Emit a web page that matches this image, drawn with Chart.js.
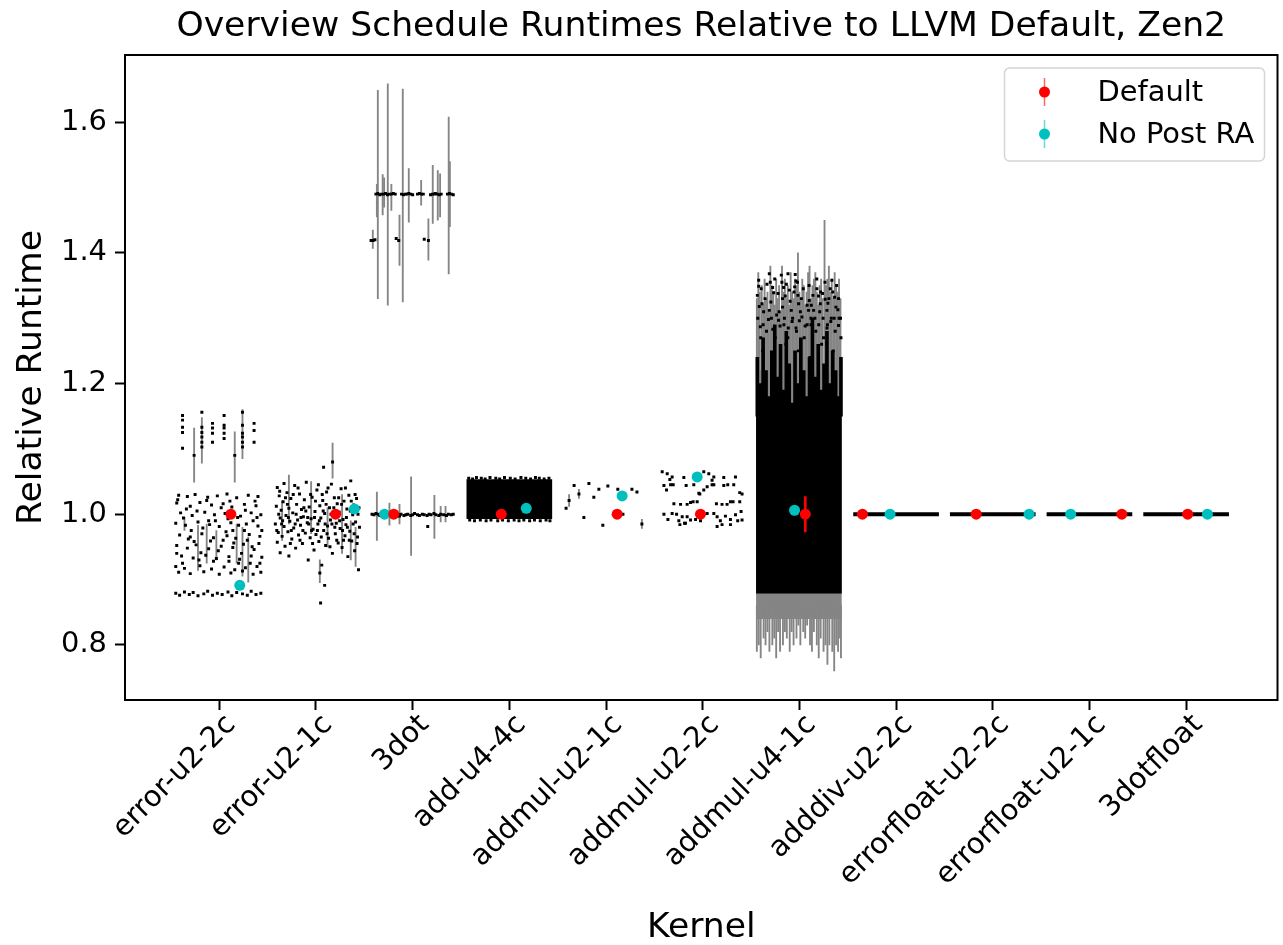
<!DOCTYPE html>
<html>
<head>
<meta charset="utf-8">
<title>Overview Schedule Runtimes</title>
<script src="https://cdn.jsdelivr.net/npm/chart.js@4.4.1/dist/chart.umd.min.js"></script>
<style>
  html, body { margin: 0; padding: 0; background: #fff; }
  #wrap { width: 1283px; height: 945px; }
</style>
</head>
<body>
<div id="wrap"><canvas id="myChart" width="1283" height="945"></canvas></div>
<script>
const chartTitle = 'Overview Schedule Runtimes Relative to LLVM Default, Zen2';
const kernels = ["error-u2-2c", "error-u2-1c", "3dot", "add-u4-4c", "addmul-u2-1c", "addmul-u2-2c",
  "addmul-u4-1c", "adddiv-u2-2c", "errorfloat-u2-2c", "errorfloat-u2-1c", "3dotfloat"];
const runtimeTicks = [0.8, 1.0, 1.2, 1.4, 1.6];

// mean runtime per kernel, plotted with a small horizontal jitter
const defaultX = [0.12, 1.203, 1.805, 2.917, 4.115, 4.977, 6.061, 6.652, 7.829, 9.335, 10.016];
const defaultY = [1.0, 1.0, 1.0, 1.0, 1.0, 1.0, 1.0, 1.0, 1.0, 1.0, 1.0];
const defaultErr = [0.003, 0.004, 0.002, 0.001, 0.002, 0.002, 0.027, 0.001, 0.001, 0.001, 0.001];
const noPostX = [0.212, 1.398, 1.709, 3.175, 4.167, 4.943, 5.95, 6.938, 8.376, 8.806, 10.22];
const noPostY = [0.891, 1.008, 1.0, 1.009, 1.028, 1.057, 1.006, 1.0, 1.0, 1.0, 1.0];
const noPostErr = [0.003, 0.004, 0.002, 0.002, 0.003, 0.002, 0.005, 0.001, 0.001, 0.001, 0.001];

// schedule samples [x, runtime]
const errorU22cPts = [
  [-0.38,1.151],[-0.38,1.144],[-0.38,1.133],[-0.38,1.125],[-0.38,1.101],[-0.26,1.090],
  [-0.18,1.156],[-0.18,1.133],[-0.18,1.125],[-0.18,1.118],[-0.18,1.110],[-0.18,1.103],
  [-0.07,1.139],[-0.07,1.132],[-0.07,1.124],[-0.07,1.110],
  [0.05,1.151],[0.05,1.136],[0.05,1.132],[0.05,1.124],[0.05,1.116],[0.16,1.090],
  [0.24,1.156],[0.24,1.136],[0.24,1.124],[0.24,1.118],[0.24,1.110],[0.24,1.103],
  [0.36,1.139],[0.36,1.128],[0.36,1.110],
  [-0.42,1.029],[-0.33,1.027],[-0.25,1.030],[-0.12,1.026],[-0.02,1.028],[0.08,1.031],[0.18,1.025],[0.30,1.029],[0.40,1.027],
  [-0.44,1.017],[-0.30,1.012],[-0.20,1.018],[-0.08,1.014],[0.04,1.016],[0.13,1.011],[0.26,1.015],[0.38,1.013],
  [-0.40,1.002],[-0.28,0.998],[-0.15,1.003],[-0.05,0.999],[0.06,1.001],[0.22,0.997],[0.33,1.002],[0.43,0.999],
  [-0.45,0.986],[-0.35,0.983],[-0.22,0.988],[-0.10,0.984],[0.00,0.981],[0.12,0.987],[0.20,0.983],[0.28,0.985],[0.40,0.982],
  [-0.41,0.968],[-0.30,0.965],[-0.18,0.970],[-0.06,0.964],[0.08,0.967],[0.17,0.963],[0.31,0.969],[0.42,0.966],
  [-0.44,0.952],[-0.33,0.948],[-0.24,0.953],[-0.11,0.947],[0.02,0.951],[0.14,0.949],[0.25,0.954],[0.36,0.946],
  [-0.39,0.936],[-0.27,0.933],[-0.14,0.937],[-0.03,0.932],[0.10,0.935],[0.21,0.931],[0.33,0.936],[0.44,0.934],
  [-0.45,0.920],[-0.36,0.917],[-0.20,0.921],[-0.08,0.916],[0.05,0.919],[0.16,0.915],[0.27,0.918],[0.39,0.920],
  [-0.42,0.911],[-0.30,0.909],[-0.16,0.912],[0.00,0.908],[0.12,0.910],[0.24,0.913],[0.35,0.908],[0.43,0.911],
  [-0.43,1.022],[-0.37,0.994],[-0.34,1.008],[-0.29,0.975],[-0.26,0.958],[-0.23,1.005],[-0.19,0.941],[-0.17,0.979],
  [-0.13,1.021],[-0.09,0.959],[-0.04,0.990],[-0.01,0.944],[0.02,1.010],[0.07,0.973],[0.10,0.928],[0.11,1.020],
  [0.15,0.956],[0.19,0.995],[0.23,0.940],[0.27,1.006],[0.29,0.960],[0.32,0.925],[0.35,0.990],[0.37,1.020],
  [0.41,0.955],[0.44,0.975],[-0.44,0.940],[-0.38,0.925],[-0.32,0.962],[-0.21,0.930],[-0.11,0.990],[-0.06,0.928],
  [0.04,0.960],[0.09,0.993],[0.14,0.975],[0.20,0.925],[0.26,0.975],[0.34,0.950],[0.39,0.995],[0.42,0.925],
  [-0.45,0.879],[-0.41,0.876],[-0.36,0.881],[-0.31,0.877],[-0.27,0.880],[-0.22,0.875],[-0.16,0.878],[-0.12,0.882],
  [-0.07,0.876],[-0.02,0.879],[0.03,0.877],[0.09,0.881],[0.13,0.875],[0.18,0.880],[0.24,0.878],[0.29,0.876],
  [0.33,0.882],[0.38,0.877],[0.43,0.879]
];
const errorU21cPts = [
  [0.58,0.985],[0.59,1.012],[0.60,0.957],[0.60,1.041],[0.61,0.972],[0.62,1.028],[0.63,0.994],[0.63,0.941],
  [0.64,1.006],[0.65,0.966],[0.66,1.019],[0.67,0.981],[0.67,1.047],[0.68,0.951],[0.69,0.998],[0.70,1.033],
  [0.71,0.973],[0.72,1.009],[0.72,0.936],[0.73,0.989],[0.74,1.024],[0.75,0.962],[0.76,1.002],[0.77,0.979],
  [0.78,1.044],[0.79,0.948],[0.80,1.015],[0.81,0.991],[0.82,0.968],[0.83,1.031],[0.84,0.983],[0.85,1.007],
  [0.86,0.955],[0.87,0.996],[0.88,1.022],[0.89,0.971],[0.90,1.049],[0.91,0.987],[0.92,0.930],[0.93,1.011],
  [0.94,0.964],[0.95,0.993],[0.96,1.026],[0.97,0.977],[0.98,0.945],[0.99,1.004],[1.00,0.969],[1.01,1.037],
  [1.02,0.985],[1.03,0.958],[1.04,1.013],[1.05,0.994],[1.06,0.922],[1.07,1.021],[1.08,0.975],[1.09,1.001],
  [1.10,0.952],[1.11,1.034],[1.12,0.982],[1.13,0.963],[1.14,1.010],[1.15,0.991],[1.16,1.046],[1.17,0.940],
  [1.18,0.997],[1.19,1.025],[1.20,0.970],[1.21,0.986],[1.22,1.016],[1.23,0.956],[1.24,1.003],[1.25,0.978],
  [1.26,1.039],[1.27,0.949],[1.28,0.992],[1.29,1.020],[1.30,0.967],[1.31,0.984],[1.32,1.008],[1.33,0.935],
  [1.34,1.029],[1.35,0.974],[1.36,1.051],[1.37,0.959],[1.38,0.999],[1.39,1.014],[1.40,0.944],[1.41,0.988],
  [1.42,1.024],[1.43,0.965],[1.44,0.915],[1.45,0.980],
  [0.615,1.000],[0.655,0.990],[0.705,1.015],[0.745,0.975],[0.795,1.000],[0.835,0.960],[0.875,1.010],
  [0.915,0.995],[0.955,0.975],[0.995,1.020],[1.035,0.990],[1.075,1.005],[1.115,0.970],[1.155,1.000],
  [1.195,0.980],[1.235,1.025],[1.275,0.975],[1.315,0.995],[1.355,1.005],[1.395,0.970],[1.435,1.000],
  [0.595,0.975],[0.625,1.035],[0.645,0.985],[0.685,1.025],[0.715,0.995],[0.735,0.955],[0.765,1.030],
  [0.785,0.985],[0.815,1.040],[0.845,0.995],[0.865,0.975],[0.895,1.005],[0.925,0.985],[0.945,1.030],
  [0.965,0.955],[0.985,0.995],[1.015,0.975],[1.025,1.045],[1.055,0.965],[1.065,1.030],[1.095,0.985],
  [1.105,1.015],[1.125,1.040],[1.145,0.950],[1.165,0.985],[1.185,1.010],[1.215,0.960],[1.245,0.990],
  [1.265,1.015],[1.285,0.960],[1.305,1.040],[1.325,0.980],[1.345,0.960],[1.365,1.020],[1.385,0.985],
  [1.405,1.030],[1.425,0.955],[1.445,1.010],
  [1.079,1.072],[1.172,1.080],[1.090,0.891],[1.048,0.864],[1.040,0.910]
];
const threeDotPts = [
  [1.62,1.490],[1.64,1.491],[1.66,1.489],[1.68,1.490],[1.70,1.490],[1.72,1.491],[1.74,1.489],[1.76,1.490],
  [1.78,1.490],[1.80,1.491],[1.82,1.490],[1.885,1.490],[1.905,1.489],[1.925,1.490],[1.94,1.490],[1.96,1.491],
  [1.98,1.490],[2.00,1.489],[2.05,1.490],[2.07,1.491],[2.09,1.490],[2.11,1.490],[2.185,1.489],[2.205,1.490],
  [2.225,1.490],[2.235,1.491],[2.255,1.490],[2.275,1.489],[2.295,1.490],[2.36,1.490],[2.38,1.491],[2.40,1.490],
  [2.42,1.489],
  [1.57,1.419],[1.59,1.419],[1.61,1.420],[1.83,1.422],[1.856,1.419],[2.12,1.421],[2.163,1.419],
  [1.58,1.000],[1.60,0.999],[1.62,1.001],[1.645,1.000],[1.66,0.998],[1.69,1.000],[1.72,1.001],[1.74,0.999],
  [1.77,1.000],[1.79,0.998],[1.82,1.000],[1.84,0.997],[1.86,0.999],[1.88,1.000],[1.91,0.998],[1.93,0.999],
  [1.95,1.000],[1.98,0.998],[2.00,0.999],[2.02,1.001],[2.05,0.999],[2.07,0.998],[2.10,1.000],[2.12,0.999],
  [2.15,0.998],[2.17,1.000],[2.19,0.999],[2.22,1.001],[2.24,0.999],[2.27,0.998],[2.29,1.000],[2.32,0.999],
  [2.35,0.998],[2.37,1.000],[2.40,0.999],[2.42,1.000],[2.156,0.981],[1.864,0.997]
];
const addU44cPts = [
  [2.58,1.055],[2.62,1.054],[2.66,1.056],[2.71,1.055],[2.75,1.054],[2.80,1.056],[2.86,1.055],[2.90,1.054],
  [2.95,1.056],[3.01,1.055],[3.06,1.054],[3.12,1.056],[3.17,1.055],[3.22,1.054],[3.27,1.056],[3.31,1.055],
  [3.36,1.054],[3.41,1.055],
  [2.59,0.991],[2.64,0.990],[2.70,0.991],[2.76,0.990],[2.81,0.991],[2.88,0.990],[2.93,0.991],[2.99,0.990],
  [3.05,0.991],[3.10,0.990],[3.15,0.991],[3.21,0.990],[3.26,0.991],[3.32,0.990],[3.38,0.991],[3.42,0.990]
];
const addmulU21cPts = [
  [3.587,1.009],[3.618,1.021],[3.670,1.044],[3.720,1.031],[3.771,0.995],[3.823,1.047],[3.874,1.026],
  [3.926,1.038],[3.967,0.983],[4.019,1.043],[4.122,1.038],[4.175,1.000],[4.268,1.038],[4.320,1.034],
  [4.371,0.985]
];
const addmulU22cPts = [
  [4.581,1.065],[4.633,1.062],[4.684,1.057],[4.660,1.053],[4.805,1.056],[5.011,1.065],[5.063,1.062],
  [5.115,1.057],[5.097,1.052],[5.218,1.056],[5.339,1.057],[4.599,1.044],[4.626,1.037],[4.668,1.045],
  [4.695,1.045],[4.829,1.044],[4.908,1.045],[5.011,1.037],[5.046,1.042],[5.097,1.045],[5.115,1.045],
  [5.218,1.044],[5.259,1.045],[5.321,1.045],[5.383,1.033],[5.407,1.031],[4.960,1.032],[4.970,1.031],
  [4.702,1.016],[4.771,1.015],[4.839,1.015],[4.874,1.018],[4.901,1.019],[4.943,1.019],[5.142,1.016],
  [5.200,1.015],[5.252,1.015],[5.287,1.019],[5.314,1.019],[5.383,1.019],
  [4.599,1.000],[4.640,0.992],[4.684,1.001],[4.730,1.000],[4.753,0.990],[4.788,0.996],[4.812,0.986],
  [4.839,0.996],[4.874,0.991],[4.926,0.992],[4.977,0.990],[5.046,1.001],[5.115,1.001],[5.149,0.996],
  [5.183,0.990],[5.235,0.997],[5.287,0.992],[5.339,0.999],[5.362,0.990],[5.397,1.004],[5.407,0.991],
  [4.764,0.984],[4.822,0.986],[5.149,0.981],[5.200,0.984],[5.287,0.984]
];
const addmulU41cPts = [
  [5.579,1.358],[5.579,1.349],[5.689,1.368],[5.699,1.355],[5.723,1.347],[5.734,1.339],[5.813,1.366],
  [5.819,1.355],[5.837,1.347],[5.854,1.334],[5.882,1.368],[5.896,1.343],[5.957,1.367],[5.964,1.357],
  [5.951,1.348],[5.985,1.335],[5.992,1.322],[6.102,1.327],[6.123,1.320],[6.147,1.312],[6.181,1.345],
  [6.198,1.334],[6.240,1.338],[6.267,1.329],[6.295,1.323],[6.319,1.345],[6.336,1.358],[6.364,1.332],
  [6.378,1.317],[6.398,1.313],[6.405,1.289],[6.285,1.312],[6.216,1.322],[6.095,1.312],[6.026,1.302],
  [5.916,1.312],[5.826,1.317],[5.785,1.297],[5.689,1.312],[5.613,1.322],[5.596,1.287],
  [5.57,1.300],[5.60,1.270],[5.63,1.310],[5.66,1.280],[5.71,1.300],[5.75,1.270],[5.79,1.310],[5.84,1.290],
  [5.88,1.270],[5.93,1.300],[5.97,1.280],[6.01,1.310],[6.05,1.270],[6.08,1.290],[6.12,1.300],[6.17,1.280],
  [6.21,1.310],[6.25,1.270],[6.29,1.290],[6.33,1.300],[6.37,1.280],[6.41,1.300],[5.62,1.250],[5.74,1.240],
  [5.86,1.260],[5.99,1.250],[6.11,1.240],[6.23,1.260],[6.35,1.250],[6.43,1.270],
  [5.565,1.335],[5.585,1.318],[5.605,1.345],[5.625,1.290],[5.645,1.330],[5.665,1.352],[5.68,1.298],
  [5.705,1.325],[5.725,1.283],[5.745,1.360],[5.765,1.305],[5.78,1.338],[5.80,1.288],[5.825,1.330],
  [5.845,1.300],[5.865,1.352],[5.885,1.285],[5.905,1.326],[5.925,1.295],[5.945,1.340],[5.965,1.285],
  [5.98,1.355],[6.00,1.296],[6.02,1.330],[6.04,1.345],[6.06,1.288],[6.08,1.320],[6.10,1.350],
  [6.12,1.290],[6.14,1.335],[6.16,1.300],[6.18,1.360],[6.20,1.290],[6.22,1.340],[6.245,1.300],
  [6.265,1.355],[6.285,1.285],[6.305,1.330],[6.325,1.295],[6.345,1.340],[6.36,1.300],[6.385,1.350],
  [6.405,1.330],[6.425,1.300]
];

// error bars [x, low, high]
const errorU22cBars = [
  [-0.26,1.049,1.132],[0.16,1.049,1.126],[-0.18,1.078,1.148],[0.24,1.085,1.160],
  [-0.22,0.914,0.983],[-0.13,0.925,0.985],[0.18,0.925,0.985],[0.24,0.905,0.980],[0.30,0.896,0.965],
  [-0.36,0.975,0.995],[-0.03,0.930,0.975]
];
const errorU21cBars = [
  [0.72,0.985,1.060],[0.95,0.970,1.050],[1.172,1.055,1.109],[1.04,0.895,0.930],[1.27,0.940,1.030],
  [1.36,0.930,0.990],[1.41,0.920,0.980],[0.65,0.960,1.020],[1.12,0.950,1.010]
];
const threeDotBars = [
  [1.64,1.330,1.649],[1.743,1.320,1.659],[1.898,1.325,1.651],[2.373,1.368,1.608],[1.69,1.458,1.520],
  [1.705,1.470,1.515],[1.78,1.465,1.505],[1.96,1.447,1.529],[2.088,1.473,1.511],[2.208,1.445,1.534],
  [2.26,1.450,1.526],[2.284,1.455,1.521],[1.864,1.381,1.458],[2.163,1.389,1.452],[1.588,1.407,1.435],
  [1.63,1.455,1.505],[2.385,1.440,1.540],
  [1.63,0.960,1.034],[1.984,0.937,1.057],[2.225,0.963,1.029],[1.76,0.983,1.017],[1.864,0.985,1.015],
  [2.29,0.988,1.012],[2.34,0.988,1.012]
];
const addmulU21cBars = [[3.618,1.012,1.030],[4.371,0.978,0.992],[3.72,1.024,1.038]];
const addmulU41cBars = [
  [5.56,1.2,1.33],[5.575,1.2,1.37],[5.59,1.2,1.34],[5.61,1.2,1.35],[5.625,1.2,1.32],[5.64,1.2,1.36],
  [5.655,1.2,1.33],[5.67,1.2,1.34],[5.685,1.2,1.31],[5.70,1.2,1.38],[5.715,1.2,1.35],[5.73,1.2,1.34],
  [5.745,1.2,1.32],[5.76,1.2,1.36],[5.775,1.2,1.33],[5.79,1.2,1.35],[5.805,1.2,1.31],[5.82,1.2,1.38],
  [5.835,1.2,1.34],[5.85,1.2,1.36],[5.865,1.2,1.33],[5.88,1.2,1.35],[5.895,1.2,1.32],[5.91,1.2,1.37],
  [5.925,1.2,1.34],[5.94,1.2,1.33],[5.955,1.2,1.36],[5.97,1.2,1.35],[5.985,1.2,1.40],[6.00,1.2,1.34],
  [6.015,1.2,1.33],[6.03,1.2,1.36],[6.045,1.2,1.35],[6.06,1.2,1.32],[6.075,1.2,1.34],[6.09,1.2,1.37],
  [6.105,1.2,1.38],[6.12,1.2,1.33],[6.135,1.2,1.35],[6.15,1.2,1.36],[6.165,1.2,1.37],[6.18,1.2,1.34],
  [6.195,1.2,1.32],[6.21,1.2,1.35],[6.225,1.2,1.36],[6.24,1.2,1.33],[6.26,1.2,1.45],[6.275,1.2,1.35],
  [6.29,1.2,1.36],[6.305,1.2,1.38],[6.32,1.2,1.34],[6.335,1.2,1.36],[6.35,1.2,1.33],[6.365,1.2,1.37],
  [6.38,1.2,1.35],[6.395,1.2,1.34],[6.41,1.2,1.36],[6.425,1.2,1.33],
  [5.56,0.79,0.86],[5.58,0.80,0.86],[5.60,0.78,0.86],[5.63,0.81,0.86],[5.65,0.80,0.86],[5.67,0.82,0.86],
  [5.69,0.79,0.86],[5.72,0.80,0.86],[5.74,0.81,0.86],[5.76,0.78,0.86],[5.78,0.82,0.86],[5.80,0.79,0.86],
  [5.83,0.80,0.86],[5.85,0.82,0.86],[5.87,0.81,0.86],[5.90,0.79,0.86],[5.92,0.82,0.86],[5.94,0.80,0.86],
  [5.97,0.81,0.86],[5.99,0.83,0.86],[6.01,0.80,0.86],[6.04,0.82,0.86],[6.06,0.81,0.86],[6.08,0.83,0.86],
  [6.11,0.80,0.86],[6.13,0.79,0.86],[6.15,0.82,0.86],[6.18,0.80,0.86],[6.20,0.78,0.86],[6.22,0.81,0.86],
  [6.25,0.79,0.86],[6.27,0.80,0.86],[6.29,0.77,0.86],[6.31,0.80,0.86],[6.34,0.79,0.86],[6.36,0.76,0.86],
  [6.38,0.80,0.86],[6.40,0.79,0.86],[6.42,0.81,0.86],[6.43,0.78,0.86]
];

// overlapping samples that merge into solid areas [x, low, high]
const denseBlocks = [[3.0,0.993,1.053],[5.995,0.879,1.15],[7,0.9975,1.0025],[8,0.9975,1.0025],
  [9,0.9975,1.0025],[10,0.9975,1.0025]];
const spreadBlocks = [[5.995,0.84,1.22]];
const addmulU41cCols = [
  [5.565,1.15,1.24],[5.595,1.15,1.20],[5.625,1.15,1.27],[5.655,1.15,1.22],[5.685,1.15,1.18],[5.715,1.15,1.25],
  [5.745,1.15,1.29],[5.775,1.15,1.21],[5.805,1.15,1.26],[5.835,1.15,1.19],[5.865,1.15,1.28],[5.895,1.15,1.23],
  [5.925,1.15,1.17],[5.955,1.15,1.25],[5.985,1.15,1.20],[6.015,1.15,1.27],[6.045,1.15,1.22],[6.075,1.15,1.18],
  [6.105,1.15,1.24],[6.135,1.15,1.30],[6.165,1.15,1.21],[6.195,1.15,1.26],[6.225,1.15,1.19],[6.255,1.15,1.23],
  [6.285,1.15,1.28],[6.315,1.15,1.20],[6.345,1.15,1.25],[6.375,1.15,1.22],[6.405,1.15,1.18],[6.43,1.15,1.24]
];

const toPoint = p => ({ x: p[0], y: p[1] });
const toRange = b => ({ x: b[0], y: [b[1], b[2]] });

const samplePts = [].concat(errorU22cPts, errorU21cPts, threeDotPts, addU44cPts, addmulU21cPts,
  addmulU22cPts, addmulU41cPts).map(toPoint);
const sampleBars = [].concat(errorU22cBars, errorU21cBars, threeDotBars, addmulU21cBars, addmulU41cBars).map(toRange);

const RED = '#ff0000';
const CYAN = '#00bfbf';
const FONT = '"DejaVu Sans", sans-serif';

// title over the plot area, axes frame on all sides, and the legend box
const frameAndLegend = {
  id: 'frameAndLegend',
  afterDatasetsDraw(chart) {
    const { ctx, chartArea: a } = chart;
    ctx.save();
    ctx.strokeStyle = '#000';
    ctx.lineWidth = 2;
    ctx.strokeRect(a.left, a.top, a.right - a.left, a.bottom - a.top);
    ctx.restore();
  },
  afterDraw(chart) {
    const { ctx, chartArea: a } = chart;
    ctx.save();
    ctx.fillStyle = '#000';
    ctx.font = '34.6px ' + FONT;
    ctx.textAlign = 'center';
    ctx.textBaseline = 'middle';
    ctx.fillText(chartTitle, (a.left + a.right) / 2, 27);

    const entries = chart.data.datasets.filter(d => d.inLegend);
    const w = 260, h = 93;
    const left = a.right - 273, top = a.top + 13;
    ctx.beginPath();
    ctx.roundRect(left, top, w, h, 5);
    ctx.fillStyle = 'rgba(255,255,255,0.8)';
    ctx.fill();
    ctx.strokeStyle = '#d5d5d5';
    ctx.lineWidth = 1.5;
    ctx.stroke();
    ctx.textAlign = 'left';
    entries.forEach((d, i) => {
      const cy = top + 24 + i * 42;
      const cx = left + 40;
      ctx.strokeStyle = d.pointBackgroundColor;
      ctx.globalAlpha = 0.6;
      ctx.lineWidth = 1.5;
      ctx.beginPath();
      ctx.moveTo(cx, cy - 14);
      ctx.lineTo(cx, cy + 14);
      ctx.stroke();
      ctx.globalAlpha = 1;
      ctx.fillStyle = d.pointBackgroundColor;
      ctx.beginPath();
      ctx.arc(cx, cy, 5.5, 0, Math.PI * 2);
      ctx.fill();
      ctx.fillStyle = '#000';
      ctx.font = '28.9px ' + FONT;
      ctx.fillText(d.label, left + 93, cy + 1);
    });
    ctx.restore();
  }
};

Chart.defaults.font.family = FONT;
Chart.defaults.color = '#000';

const ctx = document.getElementById('myChart');
new Chart(ctx, {
  type: 'scatter',
  data: {
    datasets: [
      {
        label: 'Default',
        inLegend: true,
        data: defaultX.map((x, i) => ({ x: x, y: defaultY[i] })),
        pointBackgroundColor: RED,
        pointBorderWidth: 0,
        pointRadius: 5.5,
        order: 0
      },
      {
        type: 'bar',
        label: 'Default error',
        data: defaultX.map((x, i) => ({ x: x, y: [defaultY[i] - defaultErr[i], defaultY[i] + defaultErr[i]] })),
        backgroundColor: RED,
        barThickness: 2,
        grouped: false,
        order: 0
      },
      {
        label: 'No Post RA',
        inLegend: true,
        data: noPostX.map((x, i) => ({ x: x, y: noPostY[i] })),
        pointBackgroundColor: CYAN,
        pointBorderWidth: 0,
        pointRadius: 5.5,
        order: 1
      },
      {
        type: 'bar',
        label: 'No Post RA error',
        data: noPostX.map((x, i) => ({ x: x, y: [noPostY[i] - noPostErr[i], noPostY[i] + noPostErr[i]] })),
        backgroundColor: CYAN,
        barThickness: 2,
        grouped: false,
        order: 1
      },
      {
        label: 'Schedules',
        data: samplePts,
        pointStyle: 'rect',
        pointRadius: 2.1,
        pointBorderWidth: 0,
        pointBackgroundColor: '#000',
        order: 2
      },
      {
        type: 'bar',
        label: 'Dense schedules',
        data: denseBlocks.map(toRange),
        backgroundColor: '#000',
        barThickness: 85,
        grouped: false,
        order: 3
      },
      {
        type: 'bar',
        label: 'Dense columns',
        data: addmulU41cCols.map(toRange),
        backgroundColor: '#000',
        barThickness: 3,
        grouped: false,
        order: 3
      },
      {
        type: 'bar',
        label: 'Schedule spread',
        data: sampleBars,
        backgroundColor: '#858585',
        barThickness: 1.2,
        grouped: false,
        order: 4
      },
      {
        type: 'bar',
        label: 'Spread area',
        data: spreadBlocks.map(toRange),
        backgroundColor: '#858585',
        barThickness: 85,
        grouped: false,
        order: 5
      }
    ]
  },
  options: {
    responsive: false,
    animation: false,
    layout: { padding: { left: 0, right: 3, top: 55, bottom: 0 } },
    plugins: {
      legend: { display: false },
      tooltip: { enabled: false },
      title: { display: false }
    },
    scales: {
      x: {
        type: 'linear',
        min: -0.975,
        max: 10.945,
        offset: false,
        afterBuildTicks: axis => { axis.ticks = kernels.map((k, i) => ({ value: i })); },
        afterFit: axis => { axis.height = 245; },
        border: { display: false },
        grid: { offset: false, drawOnChartArea: false, drawTicks: true, tickLength: 10, tickWidth: 2, tickColor: '#000' },
        ticks: {
          autoSkip: false,
          minRotation: 45,
          maxRotation: 45,
          padding: -2,
          labelOffset: 12,
          font: { size: 28.9 },
          callback: v => kernels[v]
        },
        title: { display: true, text: 'Kernel', font: { size: 34.6, lineHeight: 1 }, padding: { top: 0, bottom: 0 } }
      },
      y: {
        type: 'linear',
        min: 0.7155,
        max: 1.703,
        afterBuildTicks: axis => { axis.ticks = runtimeTicks.map(v => ({ value: v })); },
        afterFit: axis => { axis.width = 125; },
        border: { display: false },
        grid: { drawOnChartArea: false, drawTicks: true, tickLength: 10, tickWidth: 2, tickColor: '#000' },
        ticks: { padding: 8, font: { size: 28.9 }, callback: v => v.toFixed(1) },
        title: { display: true, text: 'Relative Runtime', font: { size: 34.6, lineHeight: 1 }, padding: { top: 15, bottom: 0 } }
      }
    }
  },
  plugins: [frameAndLegend]
});
</script>
</body>
</html>
